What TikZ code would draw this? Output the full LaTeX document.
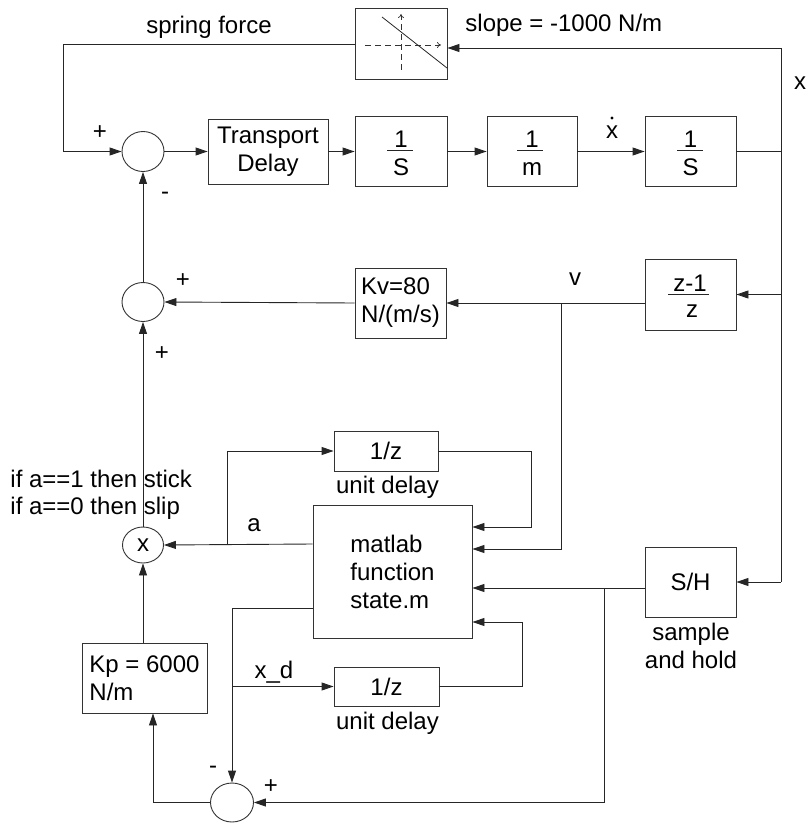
\documentclass[tikz,border=0pt]{standalone}
\usepackage{fontspec}
\setmainfont{Liberation Sans}
\usetikzlibrary{arrows.meta,shapes.geometric,calc}
\begin{document}
\begin{tikzpicture}[x=1pt,y=-1pt,
  font=\fontsize{24}{28}\selectfont,
  line width=0.9pt,
  blk/.style={draw=black!80, rectangle, inner sep=0pt},
  sumnode/.style={draw=black!80, ellipse, minimum width=42pt, minimum height=40pt, inner sep=0pt},
  wire/.style={draw=black!85},
  arr/.style={wire, -{Triangle[length=12pt,width=8pt]}},
  lbl/.style={inner sep=0pt, anchor=base},
  sgn/.style={inner sep=0pt},
]
\useasboundingbox (0,0) rectangle (807,824);

% ---- blocks ----
\node[blk, minimum width=92pt, minimum height=71pt] (sat) at (401,44) {};
\node[sumnode] (sum1) at (143,151.5) {};
\node[blk, minimum width=120pt, minimum height=65pt, align=center] (td) at (268,151.5) {Transport\\Delay};
\node[blk, minimum width=92pt, minimum height=70pt] (int1) at (401,151.5) {};
\node[blk, minimum width=90pt, minimum height=70pt] (inm) at (532,151.5) {};
\node[blk, minimum width=91pt, minimum height=70pt] (int2) at (690.5,151.5) {};
\node[sumnode, minimum height=39pt] (sum2) at (143,302) {};
\node[blk, minimum width=91pt, minimum height=70pt, align=left] (kv) at (400.5,303) {Kv=80\\N/(m/s)};
\node[blk, minimum width=91pt, minimum height=71pt] (dz) at (690.5,294.5) {};
\node[blk, minimum width=104pt, minimum height=40pt] (ud1) at (386,451) {1/z};
\node[blk, minimum width=159pt, minimum height=133pt, align=left] (mf) at (392.5,571.5) {matlab\\function\\state.m};
\node[blk, minimum width=91pt, minimum height=70pt] (sh) at (690.5,582) {S/H};
\node[sumnode, minimum width=41pt, minimum height=36pt] (mult) at (143,545) {x};
\node[blk, minimum width=125pt, minimum height=70pt, align=left] (kp) at (144.5,678) {Kp = 6000\\N/m};
\node[blk, minimum width=105pt, minimum height=39pt] (ud2) at (386.5,686.5) {1/z};
\node[sumnode, minimum width=43pt, minimum height=39pt] (sum3) at (232,802.5) {};

% ---- fractions inside blocks ----
\node[lbl] (int1n) at (401,147) {1};
\node[lbl] (int1d) at (401,175) {S};
\draw[wire] (387,150) -- (413,150);
\node[lbl] (inmn) at (532,147) {1};
\node[lbl] (inmd) at (532,175) {m};
\draw[wire] (517,150) -- (543,150);
\node[lbl] (int2n) at (690.5,147) {1};
\node[lbl] (int2d) at (690.5,175) {S};
\draw[wire] (677,150) -- (703,150);
\node[lbl] (dzn) at (690,291) {z-1};
\node[lbl] (dzd) at (692,317) {z};
\draw[wire] (668,294) -- (709,294);

% ---- spring characteristic glyph ----
\draw[black!80, line width=0.7pt, dashed, dash pattern=on 6pt off 4pt, -{To[length=4pt,width=6pt]}] (365,45) -- (441,45);
\draw[black!80, line width=0.7pt, dashed, dash pattern=on 6pt off 4pt, -{To[length=4pt,width=6pt]}] (401,70) -- (401,14);
\draw[black!85, line width=0.8pt] (382,17) -- (447,68);

% ---- coordinates ----
\coordinate (sfc) at (63,44);
\coordinate (sfb) at (63,151.5);
\coordinate (xr) at (781,151.5);
\coordinate (xtop) at (781,48);
\coordinate (xdz) at (781,294.5);
\coordinate (xsh) at (781,582);
\coordinate (vj) at (561,303);
\coordinate (vb) at (561,549);
\coordinate (u1c) at (531,527);
\coordinate (shj) at (604,588);
\coordinate (u2c) at (522,622);
\coordinate (aj) at (227,544);
\coordinate (xdc) at (232,608);
\coordinate (kpin) at (153,802.5);

% ---- connectors ----
\draw[arr] (sat.west) -- (sfc) -- (sfb) -- (sum1.west);
\draw[arr] (sum1.east) -- (td.west);
\draw[arr] (td.east) -- (int1.west);
\draw[arr] (int1.east) -- (inm.west);
\draw[arr] (inm.east) -- (int2.west);
\draw[wire] (int2.east) -- (xr);
\draw[arr] (xr) -- (xtop) -- (xtop -| sat.east);
\draw[wire] (xr) -- (xsh);
\draw[arr] (xdz) -- (dz.east);
\draw[arr] (xsh) -- (sh.east);
\draw[arr] (dz.west |- kv.east) -- (kv.east);
\draw[arr] (kv.west) -- (sum2.east);
\draw[arr] (vj) -- (vb) -- (vb -| mf.east);
\draw[arr] (ud1.east) -| (u1c) -- (u1c -| mf.east);
\draw[arr] (sh.west |- shj) -- (shj -| mf.east);
\draw[arr] (shj) |- (sum3.east);
\draw[arr] (ud2.east) -| (u2c) -- (u2c -| mf.east);
\draw[arr] (mf.west |- aj) -- (mult.east);
\draw[arr] (aj) |- (ud1.west);
\draw[arr] (mf.west |- xdc) -- (xdc) -- (sum3.north);
\draw[arr] (xdc |- ud2.west) -- (ud2.west);
\draw[arr] (sum3.west) -- (kpin) -- (kpin |- kp.south);
\draw[arr] (mult.south |- kp.north) -- (mult.south);
\draw[arr] (mult.north) -- (sum2.south);
\draw[arr] (sum2.north) -- (sum1.south);

% ---- labels ----
\node[lbl] (lsf) at (209,34) {spring force};
\node[lbl, anchor=base west] (lslope) at (465,32) {slope = -1000 N/m};
\node[lbl] (lx) at (800,90) {x};
\node[lbl] (lxd) at (612,139) {x};
\fill[black] (612,118) circle (1.6pt);
\node[lbl] (lv) at (575,285) {v};
\node[lbl] (la) at (254,531) {a};
\node[lbl] (lxdl) at (274,678) {x\_d};
\node[lbl, anchor=base west] (lif1) at (10,487) {if a==1 then stick};
\node[lbl, anchor=base west] (lif2) at (10,514) {if a==0 then slip};
\node[lbl] (lud1) at (387.5,493) {unit delay};
\node[lbl] (lud2) at (387.5,729) {unit delay};
\node[lbl] (lsh1) at (691,640) {sample};
\node[lbl] (lsh2) at (691,668) {and hold};
\node[sgn] (p1) at (100,133) {+};
\node[sgn] (m1) at (165,196) {-};
\node[sgn] (p2) at (183,281) {+};
\node[sgn] (p3) at (162,354) {+};
\node[sgn] (m3) at (213,770) {-};
\node[sgn] (p4) at (271,787) {+};
\end{tikzpicture}
\end{document}
